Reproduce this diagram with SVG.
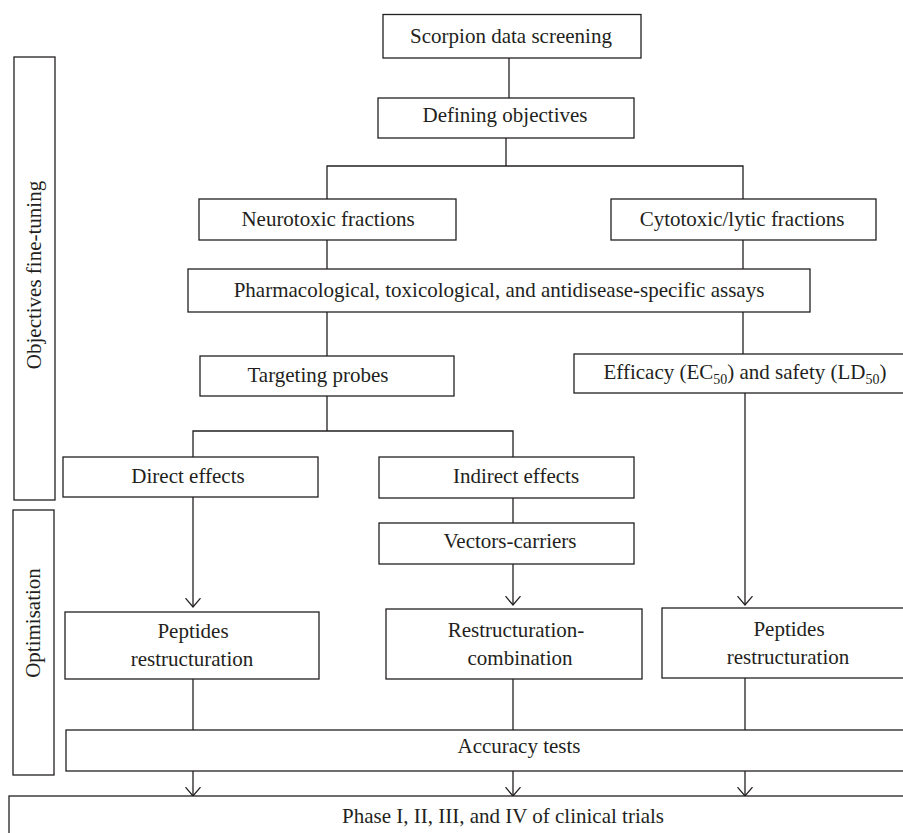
<svg xmlns="http://www.w3.org/2000/svg" width="903" height="833" viewBox="0 0 903 833">
<defs>
<style>
.b{fill:#fff;stroke:#231f20;stroke-width:1.3}
text{font-family:"Liberation Serif","Times New Roman",serif;font-size:21px;fill:#231f20;text-anchor:middle}
.c line,.c path{stroke:#231f20;stroke-width:1.3;fill:none}
.sub{font-size:14px}
</style>
<marker id="ah" viewBox="0 0 10 16" refX="9.3" refY="8" markerWidth="10" markerHeight="16" markerUnits="userSpaceOnUse" orient="auto">
<path d="M0.5,0.5 L9.3,8 L0.5,15.5" fill="none" stroke="#231f20" stroke-width="1.3"/>
</marker>
</defs>
<rect width="903" height="833" fill="#fff"/>
<g class="c" id="connectors">
<line x1="509" y1="58" x2="509" y2="98"/>
<path d="M506,138 V166 M327,199 V166 H743 V199"/>
<line x1="327" y1="240" x2="327" y2="269"/>
<line x1="743" y1="240" x2="743" y2="269"/>
<line x1="327" y1="312" x2="327" y2="356"/>
<line x1="743" y1="312" x2="743" y2="354"/>
<path d="M327,396 V431 M193,457 V431 H513 V457"/>
<line x1="513" y1="498" x2="513" y2="523"/>
<path d="M193,497 V607" marker-end="url(#ah)"/>
<path d="M513,564 V605" marker-end="url(#ah)"/>
<path d="M745,393 V605" marker-end="url(#ah)"/>
<line x1="193" y1="679" x2="193" y2="730"/>
<line x1="513" y1="679" x2="513" y2="730"/>
<line x1="745" y1="678" x2="745" y2="730"/>
<path d="M193,771 V796" marker-end="url(#ah)"/>
<path d="M513,771 V796" marker-end="url(#ah)"/>
<path d="M745,771 V796" marker-end="url(#ah)"/>
</g>
<g id="objectives-fine-tuning">
<rect class="b" x="14" y="57" width="41" height="443"/>
<text transform="translate(41,275) rotate(-90)">Objectives fine-tuning</text>
</g>
<g id="optimisation">
<rect class="b" x="13" y="510" width="41" height="265"/>
<text transform="translate(40,623) rotate(-90)">Optimisation</text>
</g>
<g id="scorpion">
<rect class="b" x="383" y="14.5" width="258" height="43.5"/>
<text x="511" y="43">Scorpion data screening</text>
</g>
<g id="defining">
<rect class="b" x="378" y="98" width="256" height="40"/>
<text x="505" y="122">Defining objectives</text>
</g>
<g id="neurotoxic">
<rect class="b" x="199" y="199" width="257" height="41"/>
<text x="328" y="226">Neurotoxic fractions</text>
</g>
<g id="cytotoxic">
<rect class="b" x="611" y="199" width="265" height="41"/>
<text x="742" y="226">Cytotoxic/lytic fractions</text>
</g>
<g id="assays">
<rect class="b" x="188" y="269" width="622" height="43"/>
<text x="499" y="297">Pharmacological, toxicological, and antidisease-specific assays</text>
</g>
<g id="targeting">
<rect class="b" x="200" y="356" width="254" height="40"/>
<text x="318" y="382">Targeting probes</text>
</g>
<g id="efficacy">
<rect class="b" x="574" y="354" width="340" height="39"/>
<text x="745" y="379">Efficacy (EC<tspan class="sub" dy="5">50</tspan><tspan dy="-5">) and safety (LD</tspan><tspan class="sub" dy="5">50</tspan><tspan dy="-5">)</tspan></text>
</g>
<g id="direct">
<rect class="b" x="63" y="457" width="255" height="40"/>
<text x="188" y="483">Direct effects</text>
</g>
<g id="indirect">
<rect class="b" x="379" y="457" width="255" height="41"/>
<text x="516" y="483">Indirect effects</text>
</g>
<g id="vectors">
<rect class="b" x="379" y="523" width="255" height="41"/>
<text x="510" y="548">Vectors-carriers</text>
</g>
<g id="peptides-left">
<rect class="b" x="65" y="612" width="254" height="67"/>
<text x="193" y="638">Peptides</text>
<text x="192" y="666">restructuration</text>
</g>
<g id="restructuration-combination">
<rect class="b" x="386" y="609" width="256" height="70"/>
<text x="516" y="637">Restructuration-</text>
<text x="520" y="665">combination</text>
</g>
<g id="peptides-right">
<rect class="b" x="662" y="608" width="260" height="70"/>
<text x="789" y="636">Peptides</text>
<text x="788" y="664">restructuration</text>
</g>
<g id="accuracy">
<rect class="b" x="66" y="730" width="860" height="41"/>
<text x="519" y="753">Accuracy tests</text>
</g>
<g id="phase">
<rect class="b" x="9" y="796" width="920" height="60"/>
<text x="503" y="823">Phase I, II, III, and IV of clinical trials</text>
</g>
</svg>
